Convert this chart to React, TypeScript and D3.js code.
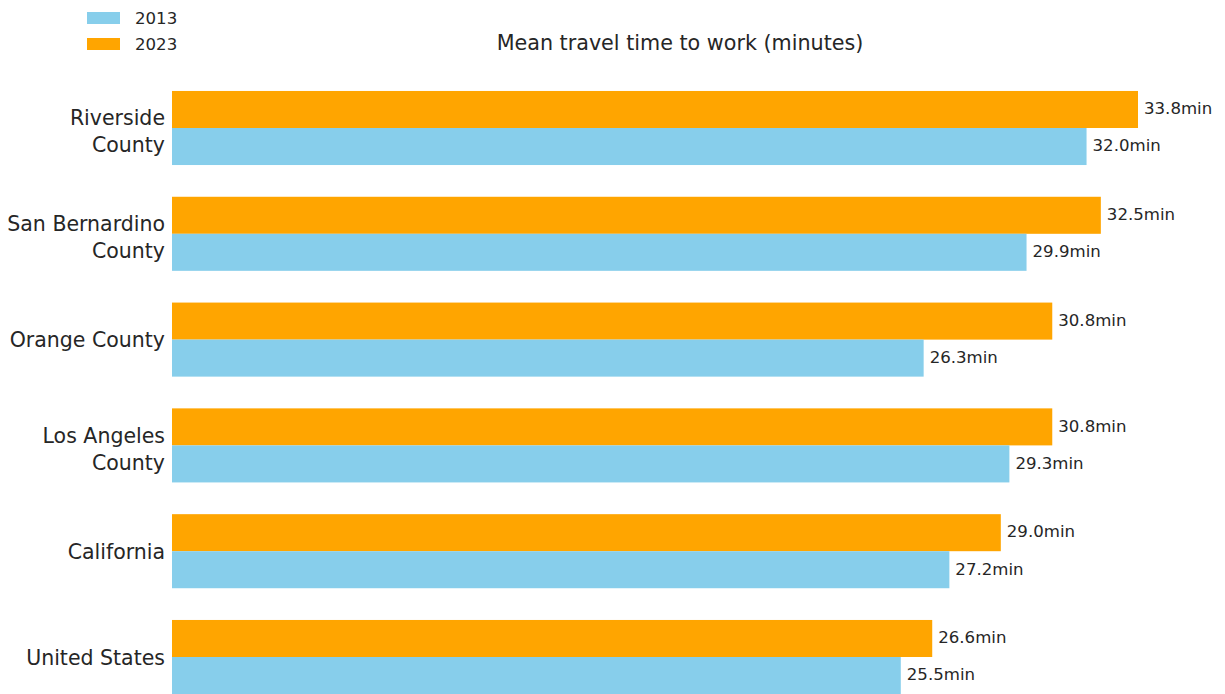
import React from "react";
import * as d3 from "d3";

const categories = [
  "Riverside\nCounty",
  "San Bernardino\nCounty",
  "Orange County",
  "Los Angeles\nCounty",
  "California",
  "United States",
];
const values2013 = [32.0, 29.9, 26.3, 29.3, 27.2, 25.5];
const values2023 = [33.8, 32.5, 30.8, 30.8, 29.0, 26.6];
const seriesNames = ["2013", "2023"];
const seriesColors = ["#87CEEB", "#FFA500"];
const title = "Mean travel time to work (minutes)";

const W = 1225;
const H = 694;
const FONT = "DejaVu Sans, sans-serif";
const TXT = "#262626";

export default function App() {
  const y = d3.scalePoint<string>().domain(categories).range([128, 657]);
  const step = y.step();
  const barH = step * 0.35;
  const x = d3.scaleLinear().domain([0, 33.8]).range([172, 1138]);

  return (
    <svg
      width={W}
      height={H}
      style={{ position: "absolute", left: 0, top: 0, background: "#fff" }}
      fontFamily={FONT}
    >
      {categories.map((c, i) => {
        const cy = y(c)!;
        const lines = c.split("\n");
        const lh = 27;
        const off = lines.length > 1 ? 3.5 : 0.5;
        return (
          <g key={c}>
            <rect
              x={x(0)}
              y={cy - barH}
              width={x(values2023[i]) - x(0)}
              height={barH}
              fill={seriesColors[1]}
            />
            <rect
              x={x(0)}
              y={cy}
              width={x(values2013[i]) - x(0)}
              height={barH}
              fill={seriesColors[0]}
            />
            <text
              x={x(values2023[i]) + 6}
              y={cy - barH / 2 - 1}
              dy="0.35em"
              fontSize={16.6}
              fill={TXT}
            >
              {values2023[i].toFixed(1)}min
            </text>
            <text
              x={x(values2013[i]) + 6}
              y={cy + barH / 2 - 1}
              dy="0.35em"
              fontSize={16.6}
              fill={TXT}
            >
              {values2013[i].toFixed(1)}min
            </text>
            <text textAnchor="end" fontSize={20.5} fill={TXT}>
              {lines.map((l, k) => (
                <tspan
                  key={k}
                  x={165}
                  y={cy + off + (k - (lines.length - 1) / 2) * lh}
                  dy="0.36em"
                >
                  {l}
                </tspan>
              ))}
            </text>
          </g>
        );
      })}
      <text x={680} y={43} dy="0.36em" textAnchor="middle" fontSize={20.7} fill={TXT}>
        {title}
      </text>
      {seriesNames.map((s, i) => (
        <g key={s}>
          <rect x={87} y={12 + i * 26} width={33} height={12} fill={seriesColors[i]} />
          <text x={135} y={18 + i * 26} dy="0.36em" fontSize={16.6} fill={TXT}>
            {s}
          </text>
        </g>
      ))}
    </svg>
  );
}
